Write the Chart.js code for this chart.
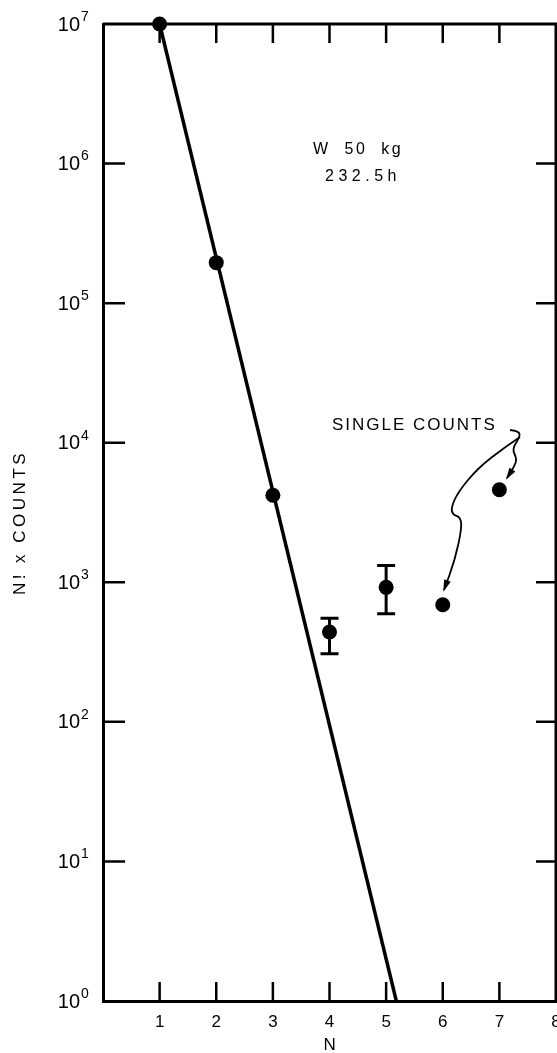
<!DOCTYPE html>
<html>
<head>
<meta charset="utf-8">
<script src="https://cdn.jsdelivr.net/npm/chart.js@4.4.1/dist/chart.umd.min.js"></script>
<style>
    html, body { margin: 0; padding: 0; background: #fff; }
    canvas { display: block; }
</style>
</head>
<body>
<canvas id="countsChart" width="557" height="1053"></canvas>
<script>
// measured points: N and N! x counts
const nValues = [1, 2, 3, 4, 5, 6, 7];
const countValues = [1e7, 1.95e5, 4200, 440, 920, 690, 4600];

// error bars (only N = 4 and N = 5 have them)
const errN = [4, 5];
const errLow = [307, 594];
const errHigh = [552, 1317];

const fitN = [1, 5.18];
const fitCounts = [1e7, 1];

// axis ticks
const xTicks = [1, 2, 3, 4, 5, 6, 7, 8];
const decadeTicks = [1, 10, 100, 1e3, 1e4, 1e5, 1e6, 1e7];

const FONT = "'Liberation Sans', 'DejaVu Sans', sans-serif";

// annotation paths in data space: [N, log10(count)]
const shortArrow = [[7.188, 4.091], [7.347, 4.084], [7.364, 4.041], [7.223, 3.955],
                    [7.311, 3.883], [7.258, 3.826], [7.135, 3.747]];
const longArrow = [[7.364, 4.041], [7.099, 3.969], [6.623, 3.819], [6.269, 3.647],
                   [6.146, 3.532], [6.181, 3.482], [6.305, 3.468], [6.340, 3.396],
                   [6.216, 3.160], [6.022, 2.945]];

function toPx(chart, n, lg) {
    return [chart.scales.x.getPixelForValue(n), chart.scales.y.getPixelForValue(Math.pow(10, lg))];
}

function drawCurve(ctx, pts) {
    ctx.beginPath();
    ctx.moveTo(pts[0][0], pts[0][1]);
    for (let i = 1; i < pts.length - 1; i++) {
        const mx = (pts[i][0] + pts[i + 1][0]) / 2;
        const my = (pts[i][1] + pts[i + 1][1]) / 2;
        ctx.quadraticCurveTo(pts[i][0], pts[i][1], mx, my);
    }
    const last = pts[pts.length - 1];
    ctx.lineTo(last[0], last[1]);
    ctx.stroke();

    // arrow head along the last segment
    const prev = pts[pts.length - 2];
    const ang = Math.atan2(last[1] - prev[1], last[0] - prev[0]);
    const len = 10, half = 3.5;
    ctx.beginPath();
    ctx.moveTo(last[0] + Math.cos(ang) * 2, last[1] + Math.sin(ang) * 2);
    ctx.lineTo(last[0] - Math.cos(ang) * len - Math.sin(ang) * half,
               last[1] - Math.sin(ang) * len + Math.cos(ang) * half);
    ctx.lineTo(last[0] - Math.cos(ang) * len + Math.sin(ang) * half,
               last[1] - Math.sin(ang) * len - Math.cos(ang) * half);
    ctx.closePath();
    ctx.fill();
}

const framePlugin = {
    id: 'frame',
    afterDatasetsDraw(chart) {
        const ctx = chart.ctx;
        const x = chart.scales.x, y = chart.scales.y;
        ctx.save();
        ctx.strokeStyle = '#000';
        ctx.lineWidth = 3;
        errN.forEach((n, i) => {
            const px = x.getPixelForValue(n);
            const top = y.getPixelForValue(errHigh[i]);
            const bot = y.getPixelForValue(errLow[i]);
            ctx.beginPath();
            ctx.moveTo(px, top);
            ctx.lineTo(px, bot);
            ctx.moveTo(px - 9, top);
            ctx.lineTo(px + 9, top);
            ctx.moveTo(px - 9, bot);
            ctx.lineTo(px + 9, bot);
            ctx.stroke();
        });
        ctx.restore();
    },
    afterDraw(chart) {
        const ctx = chart.ctx;
        const area = chart.chartArea;
        const x = chart.scales.x, y = chart.scales.y;
        ctx.save();
        ctx.strokeStyle = '#000';
        ctx.fillStyle = '#000';

        // top and right sides of the frame
        ctx.lineWidth = 3;
        ctx.beginPath();
        ctx.moveTo(area.left, area.top);
        ctx.lineTo(area.right, area.top);
        ctx.lineTo(area.right, area.bottom);
        ctx.stroke();

        // inward tick marks
        ctx.lineWidth = 2.5;
        ctx.beginPath();
        xTicks.slice(0, -1).forEach(v => {
            const px = x.getPixelForValue(v);
            ctx.moveTo(px, area.bottom);
            ctx.lineTo(px, area.bottom - 19);
            ctx.moveTo(px, area.top);
            ctx.lineTo(px, area.top + 19);
        });
        decadeTicks.slice(1, -1).forEach(v => {
            const py = y.getPixelForValue(v);
            ctx.moveTo(area.left, py);
            ctx.lineTo(area.left + 22, py);
            ctx.moveTo(area.right, py);
            ctx.lineTo(area.right - 20, py);
        });
        ctx.stroke();

        // decade labels 10^k with a raised exponent
        ctx.textBaseline = 'middle';
        decadeTicks.forEach((v, k) => {
            const py = y.getPixelForValue(v);
            ctx.font = '20px ' + FONT;
            ctx.textAlign = 'right';
            ctx.fillText('10', area.left - 23, py + 1);
            ctx.font = '14px ' + FONT;
            ctx.textAlign = 'left';
            ctx.fillText(String(k), area.left - 22, py - 7);
        });

        // axis titles
        ctx.font = '17px ' + FONT;
        ctx.letterSpacing = '3.5px';
        ctx.textAlign = 'center';
        ctx.fillText('N', (area.left + area.right) / 2 + 2, 1045);
        ctx.save();
        ctx.translate(20, (area.top + area.bottom) / 2 + 10);
        ctx.rotate(-Math.PI / 2);
        ctx.fillText('N! x COUNTS', 0, 0);
        ctx.restore();

        // labels inside the plot
        ctx.textAlign = 'left';
        ctx.font = '16px ' + FONT;
        ctx.letterSpacing = '2.5px';
        let p = toPx(chart, 3.709, 6.097);
        ctx.fillText('W  50  kg', p[0], p[1]);
        ctx.letterSpacing = '4.5px';
        p = toPx(chart, 3.921, 5.904);
        ctx.fillText('232.5h', p[0], p[1]);
        ctx.font = '17px ' + FONT;
        ctx.letterSpacing = '2px';
        p = toPx(chart, 4.044, 4.127);
        ctx.fillText('SINGLE COUNTS', p[0], p[1]);
        ctx.letterSpacing = '0px';

        // wiggly arrows to the single-count points
        ctx.lineWidth = 1.8;
        drawCurve(ctx, shortArrow.map(q => toPx(chart, q[0], q[1])));
        drawCurve(ctx, longArrow.map(q => toPx(chart, q[0], q[1])));
        ctx.restore();
    }
};

const ctx = document.getElementById('countsChart');
new Chart(ctx, {
    type: 'scatter',
    data: {
        datasets: [
            {
                label: 'fit',
                data: fitN.map((n, i) => ({ x: n, y: fitCounts[i] })),
                showLine: true,
                borderColor: '#000',
                borderWidth: 3.5,
                pointRadius: 0,
                tension: 0
            },
            {
                label: 'N! x counts',
                data: nValues.map((n, i) => ({ x: n, y: countValues[i] })),
                showLine: false,
                pointRadius: 7.5,
                pointBackgroundColor: '#000',
                pointBorderWidth: 0,
                clip: false
            }
        ]
    },
    options: {
        responsive: false,
        animation: false,
        devicePixelRatio: 1,
        layout: {
            autoPadding: false,
            padding: { top: 24, right: 1, left: 0, bottom: 0 }
        },
        plugins: {
            legend: { display: false },
            tooltip: { enabled: false }
        },
        scales: {
            x: {
                type: 'linear',
                min: 0,
                max: 8,
                afterBuildTicks: function(scale) {
                    scale.ticks = xTicks.map(v => ({ value: v }));
                },
                afterFit: function(scale) {
                    scale.height = 52;
                    scale.paddingLeft = 0;
                    scale.paddingRight = 0;
                },
                grid: { display: false, drawTicks: false },
                border: { display: true, color: '#000', width: 3 },
                ticks: {
                    color: '#000',
                    padding: 11,
                    maxRotation: 0,
                    autoSkip: false,
                    font: { family: FONT, size: 17 }
                }
            },
            y: {
                type: 'logarithmic',
                min: 1,
                max: 1e7,
                afterBuildTicks: function(scale) {
                    scale.ticks = decadeTicks.map(v => ({ value: v }));
                },
                afterFit: function(scale) {
                    scale.width = 103;
                    scale.paddingTop = 0;
                    scale.paddingBottom = 0;
                },
                grid: { display: false, drawTicks: false },
                border: { display: true, color: '#000', width: 3 },
                ticks: { display: false }
            }
        }
    },
    plugins: [framePlugin]
});
</script>
</body>
</html>
